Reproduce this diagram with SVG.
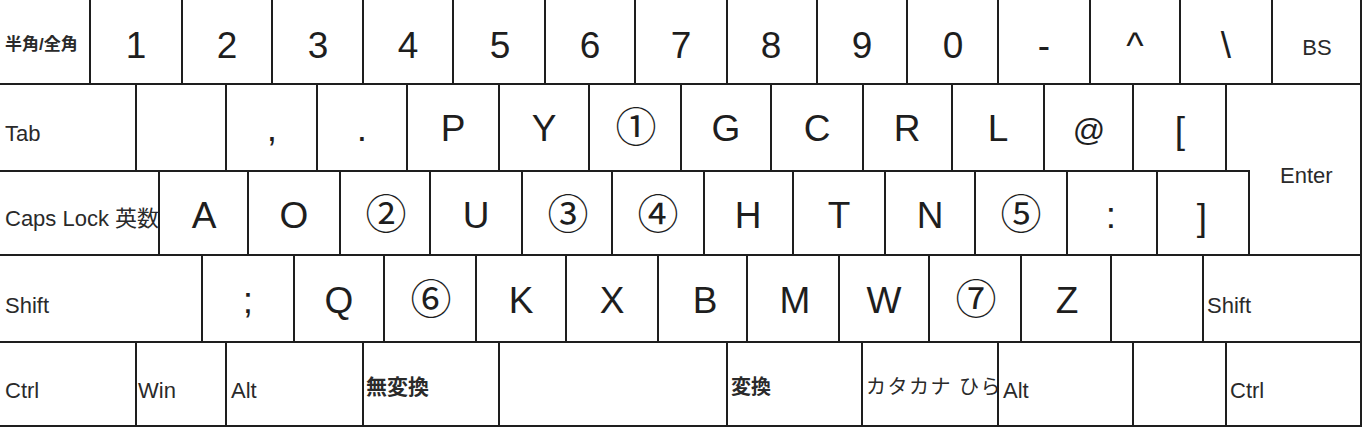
<svg xmlns="http://www.w3.org/2000/svg" width="1366" height="432" viewBox="0 0 1366 432">
<style>
.k{fill:#fff;stroke:#1e1e1e;stroke-width:2}
.b{font-family:"Liberation Sans",Arial,sans-serif;font-size:37px;fill:#1e1e1e;text-anchor:middle}
.c{font-family:"Noto Sans CJK JP",sans-serif;font-size:41px;fill:#1e1e1e;text-anchor:middle}
.s{font-family:"Liberation Sans",Arial,sans-serif;font-size:22px;fill:#2a2a2a}
.j{font-family:"Liberation Sans","Noto Sans CJK JP",sans-serif;font-size:20px;fill:#2a2a2a;font-weight:bold}
</style>
<defs>
<clipPath id="clipCaps"><rect x="0" y="171" width="158" height="84"/></clipPath>
<clipPath id="clipKana"><rect x="862" y="342" width="135" height="84"/></clipPath>
</defs>
<rect width="1366" height="432" fill="#fff"/>
<g id="row1">
<g id="k-hankaku"><rect class="k" x="-2" y="-2" width="92" height="86"/><text class="j" x="5" y="50" style="font-size:17px">半角/全角</text></g>
<g id="k-1"><rect class="k" x="90" y="-2" width="92" height="86"/><text class="b" x="136" y="58">1</text></g>
<g id="k-2"><rect class="k" x="182" y="-2" width="90" height="86"/><text class="b" x="227" y="58">2</text></g>
<g id="k-3"><rect class="k" x="272" y="-2" width="91" height="86"/><text class="b" x="318" y="58">3</text></g>
<g id="k-4"><rect class="k" x="363" y="-2" width="90" height="86"/><text class="b" x="408" y="58">4</text></g>
<g id="k-5"><rect class="k" x="453" y="-2" width="92" height="86"/><text class="b" x="500" y="58">5</text></g>
<g id="k-6"><rect class="k" x="545" y="-2" width="90" height="86"/><text class="b" x="590" y="58">6</text></g>
<g id="k-7"><rect class="k" x="635" y="-2" width="92" height="86"/><text class="b" x="681" y="58">7</text></g>
<g id="k-8"><rect class="k" x="727" y="-2" width="90" height="86"/><text class="b" x="771" y="58">8</text></g>
<g id="k-9"><rect class="k" x="817" y="-2" width="90" height="86"/><text class="b" x="862" y="58">9</text></g>
<g id="k-0"><rect class="k" x="907" y="-2" width="91" height="86"/><text class="b" x="953" y="58">0</text></g>
<g id="k-minus"><rect class="k" x="998" y="-2" width="92" height="86"/><text class="b" x="1044" y="58">-</text></g>
<g id="k-caret"><rect class="k" x="1090" y="-2" width="90" height="86"/><text class="b" x="1135" y="58">^</text></g>
<g id="k-yen"><rect class="k" x="1180" y="-2" width="92" height="86"/><text class="b" x="1226" y="58">\</text></g>
<g id="k-bs"><rect class="k" x="1272" y="-2" width="89" height="86"/><text class="s" x="1317" y="55" text-anchor="middle">BS</text></g>
</g>
<g id="row2">
<g id="k-tab"><rect class="k" x="-2" y="84" width="138" height="87"/><text class="s" x="5" y="141">Tab</text></g>
<g id="k-blank2"><rect class="k" x="136" y="84" width="90" height="87"/></g>
<g id="k-comma"><rect class="k" x="226" y="84" width="91" height="87"/><text class="b" x="272" y="141">,</text></g>
<g id="k-period"><rect class="k" x="317" y="84" width="90" height="87"/><text class="b" x="362" y="141">.</text></g>
<g id="k-p"><rect class="k" x="407" y="84" width="92" height="87"/><text class="b" x="453" y="141">P</text></g>
<g id="k-y"><rect class="k" x="499" y="84" width="90" height="87"/><text class="b" x="544" y="141">Y</text></g>
<g id="k-c1"><rect class="k" x="589" y="84" width="92" height="87"/><text class="c" x="636" y="142">①</text></g>
<g id="k-g"><rect class="k" x="681" y="84" width="90" height="87"/><text class="b" x="726" y="141">G</text></g>
<g id="k-c"><rect class="k" x="771" y="84" width="92" height="87"/><text class="b" x="817" y="141">C</text></g>
<g id="k-r"><rect class="k" x="863" y="84" width="89" height="87"/><text class="b" x="907" y="141">R</text></g>
<g id="k-l"><rect class="k" x="952" y="84" width="92" height="87"/><text class="b" x="998" y="141">L</text></g>
<g id="k-at"><rect class="k" x="1044" y="84" width="89" height="87"/><text class="b" x="1089" y="141" style="font-size:32px">@</text></g>
<g id="k-lbracket"><rect class="k" x="1133" y="84" width="93" height="87"/><text class="b" x="1180" y="143">[</text></g>
<g id="k-enter"><path class="k" d="M1226,84 H1361 V255 H1249 V171 H1226 Z"/><text class="s" x="1280" y="183">Enter</text></g>
</g>
<g id="row3">
<g id="k-caps"><rect class="k" x="-2" y="171" width="161" height="84"/><text class="j" x="5" y="226" clip-path="url(#clipCaps)" style="font-weight:normal;font-size:22px">Caps Lock 英数</text></g>
<g id="k-a"><rect class="k" x="159" y="171" width="89" height="84"/><text class="b" x="204" y="228">A</text></g>
<g id="k-o"><rect class="k" x="248" y="171" width="92" height="84"/><text class="b" x="294" y="228">O</text></g>
<g id="k-c2"><rect class="k" x="340" y="171" width="90" height="84"/><text class="c" x="386" y="229">②</text></g>
<g id="k-u"><rect class="k" x="430" y="171" width="92" height="84"/><text class="b" x="476" y="228">U</text></g>
<g id="k-c3"><rect class="k" x="522" y="171" width="90" height="84"/><text class="c" x="568" y="229">③</text></g>
<g id="k-c4"><rect class="k" x="612" y="171" width="92" height="84"/><text class="c" x="658" y="229">④</text></g>
<g id="k-h"><rect class="k" x="704" y="171" width="89" height="84"/><text class="b" x="748" y="228">H</text></g>
<g id="k-t"><rect class="k" x="793" y="171" width="92" height="84"/><text class="b" x="839" y="228">T</text></g>
<g id="k-n"><rect class="k" x="885" y="171" width="90" height="84"/><text class="b" x="930" y="228">N</text></g>
<g id="k-c5"><rect class="k" x="975" y="171" width="92" height="84"/><text class="c" x="1021" y="229">⑤</text></g>
<g id="k-colon"><rect class="k" x="1067" y="171" width="90" height="84"/><text class="b" x="1111" y="228">:</text></g>
<g id="k-rbracket"><rect class="k" x="1157" y="171" width="92" height="84"/><text class="b" x="1202" y="230">]</text></g>
</g>
<g id="row4">
<g id="k-lshift"><rect class="k" x="-2" y="255" width="204" height="87"/><text class="s" x="5" y="313">Shift</text></g>
<g id="k-semicolon"><rect class="k" x="202" y="255" width="92" height="87"/><text class="b" x="248" y="313">;</text></g>
<g id="k-q"><rect class="k" x="294" y="255" width="90" height="87"/><text class="b" x="339" y="313">Q</text></g>
<g id="k-c6"><rect class="k" x="384" y="255" width="92" height="87"/><text class="c" x="431" y="314">⑥</text></g>
<g id="k-k"><rect class="k" x="476" y="255" width="90" height="87"/><text class="b" x="521" y="313">K</text></g>
<g id="k-x"><rect class="k" x="566" y="255" width="92" height="87"/><text class="b" x="612" y="313">X</text></g>
<g id="k-b"><rect class="k" x="658" y="255" width="89" height="87"/><text class="b" x="705" y="313">B</text></g>
<g id="k-m"><rect class="k" x="747" y="255" width="92" height="87"/><text class="b" x="795" y="313">M</text></g>
<g id="k-w"><rect class="k" x="839" y="255" width="90" height="87"/><text class="b" x="884" y="313">W</text></g>
<g id="k-c7"><rect class="k" x="929" y="255" width="92" height="87"/><text class="c" x="976" y="314">⑦</text></g>
<g id="k-z"><rect class="k" x="1021" y="255" width="90" height="87"/><text class="b" x="1067" y="313">Z</text></g>
<g id="k-blank4"><rect class="k" x="1111" y="255" width="92" height="87"/></g>
<g id="k-rshift"><rect class="k" x="1203" y="255" width="158" height="87"/><text class="s" x="1207" y="313">Shift</text></g>
</g>
<g id="row5">
<g id="k-lctrl"><rect class="k" x="-2" y="342" width="138" height="84"/><text class="s" x="5" y="398">Ctrl</text></g>
<g id="k-win"><rect class="k" x="136" y="342" width="90" height="84"/><text class="s" x="138" y="398">Win</text></g>
<g id="k-lalt"><rect class="k" x="226" y="342" width="137" height="84"/><text class="s" x="231" y="398">Alt</text></g>
<g id="k-muhenkan"><rect class="k" x="363" y="342" width="136" height="84"/><text class="j" x="366" y="394" style="font-size:21px">無変換</text></g>
<g id="k-space"><rect class="k" x="499" y="342" width="228" height="84"/></g>
<g id="k-henkan"><rect class="k" x="727" y="342" width="135" height="84"/><text class="j" x="731" y="394">変換</text></g>
<g id="k-kana"><rect class="k" x="862" y="342" width="136" height="84"/><text class="j" x="866" y="394" clip-path="url(#clipKana)" style="font-size:20px;font-weight:normal;letter-spacing:1.5px">カタカナ ひら</text></g>
<g id="k-ralt"><rect class="k" x="998" y="342" width="135" height="84"/><text class="s" x="1003" y="398">Alt</text></g>
<g id="k-blank5"><rect class="k" x="1133" y="342" width="93" height="84"/></g>
<g id="k-rctrl"><rect class="k" x="1226" y="342" width="135" height="84"/><text class="s" x="1230" y="398">Ctrl</text></g>
</g>
</svg>
